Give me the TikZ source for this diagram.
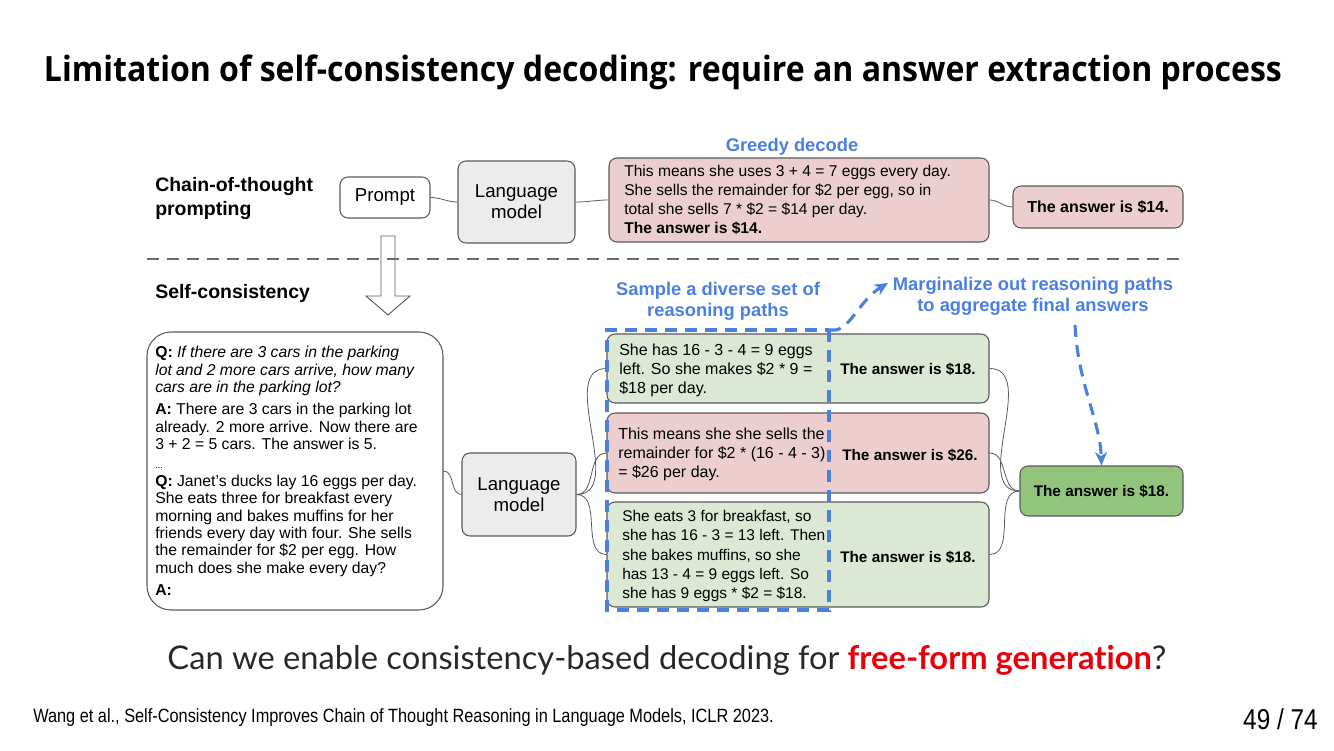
\documentclass[tikz,border=0pt]{standalone}
\usepackage{fontspec}
\setmainfont{Liberation Sans}
\newfontfamily\titlefont[FakeStretch=0.92]{Open Sans}
\newfontfamily\qfont[Ligatures=NoCommon]{Lato}
\newfontfamily\footfont[FakeStretch=0.85]{Liberation Sans}
\usetikzlibrary{arrows.meta}
\definecolor{bluelab}{RGB}{74,128,224}
\definecolor{pinkf}{RGB}{236,206,206}
\definecolor{greenf}{RGB}{219,232,212}
\definecolor{greenD}{RGB}{147,196,125}
\definecolor{grayf}{RGB}{236,236,236}
\definecolor{edgec}{RGB}{90,90,90}
\definecolor{redq}{RGB}{232,0,11}
\definecolor{qtextc}{RGB}{40,40,40}
\tikzset{
  box/.style={draw=edgec, line width=0.8pt, rounded corners=6pt, inner sep=0pt, align=center},
  lmbox/.style={box, fill=grayf, font=\fontsize{14pt}{15.75pt}\selectfont},
  ansbox/.style={box, font=\bfseries\fontsize{11.5pt}{13pt}\selectfont},
  bodytxt/.style={inner sep=0pt, align=left, font=\fontsize{11.7pt}{14.25pt}\selectfont},
  anstxt/.style={inner sep=0pt, font=\bfseries\fontsize{11.5pt}{13pt}\selectfont},
  bluetxt/.style={inner sep=0pt, align=center, text=bluelab, font=\bfseries\fontsize{13.75pt}{15.75pt}\selectfont},
  headtxt/.style={inner sep=0pt, align=left, font=\bfseries\fontsize{14.6pt}{18pt}\selectfont},
  conn/.style={draw=edgec, line width=0.6pt},
  bluedash/.style={draw=bluelab, line width=2.3pt, dash pattern=on 9pt off 6pt},
}
\begin{document}
\begin{tikzpicture}[x=0.75pt,y=-0.75pt]
\useasboundingbox (0,0) rectangle (1334,750);
% title
\node[inner sep=0pt] (title) at (663,72) {\resizebox{928.5pt}{!}{\titlefont\bfseries\fontsize{26pt}{30pt}\selectfont Limitation of self-consistency decoding: require an answer extraction process}};
% headings
\node[headtxt, anchor=west] (cot) at (155,199) {Chain-of-thought\\prompting};
\node[headtxt, anchor=west] (sc) at (155,293) {Self-consistency};
% top row
\node[box, fill=white, minimum width=67.5pt, minimum height=30.75pt, font=\fontsize{14pt}{15pt}\selectfont] (prompt) at (385,197.5) {Prompt};
\node[lmbox, minimum width=87.75pt, minimum height=61.5pt] (lm1) at (516.5,202) {Language\\model};
\node[box, fill=pinkf, minimum width=285pt, minimum height=63pt] (greedy) at (799,200) {};
\node[bodytxt, anchor=west] (greedytxt) at (624,200) {This means she uses 3 + 4 = 7 eggs every day.\\She sells the remainder for \$2 per egg, so in\\total she sells 7 * \$2 = \$14 per day.\\\textbf{The answer is \$14.}};
\node[ansbox, fill=pinkf, minimum width=127.5pt, minimum height=31.5pt, font=\bfseries\fontsize{12pt}{13pt}\selectfont] (ans14) at (1098,207) {The answer is \$14.};
\node[bluetxt] (greedylab) at (792,147) {Greedy decode};
\draw[conn] (prompt.east) to[out=0,in=180] (lm1.west);
\draw[conn] (lm1.east) to[out=0,in=180] (greedy.west);
\draw[conn] (greedy.east) to[out=0,in=180] (ans14.west);
% hollow arrow
\draw[draw=edgec, line width=0.7pt, fill=white] (381,236) -- (395,236) -- (395,296) -- (410,296) -- (388,315) -- (366,296) -- (381,296) -- cycle;
% dashed separator
\coordinate (sepL) at (147,259);
\coordinate (sepR) at (1183,259);
\draw[draw=edgec!90, line width=1.5pt, dash pattern=on 9pt off 6pt] (sepL) -- (sepR);
% question box
\node[box, fill=white, rounded corners=18pt, minimum width=222pt, minimum height=208.5pt] (qbox) at (295,471) {};
\node[inner sep=0pt, align=left, anchor=west, font=\fontsize{11.8pt}{13.1pt}\selectfont] (qtxt) at (155,471) {\textbf{Q:} \textit{If there are 3 cars in the parking}\\\textit{lot and 2 more cars arrive, how many}\\\textit{cars are in the parking lot?}\\[3.5pt]\textbf{A:} There are 3 cars in the parking lot\\already. 2 more arrive. Now there are\\3 + 2 = 5 cars. The answer is 5.\\[1pt]{\fontsize{7pt}{8pt}\selectfont ...}\\\textbf{Q:} Janet’s ducks lay 16 eggs per day.\\She eats three for breakfast every\\morning and bakes muffins for her\\friends every day with four. She sells\\the remainder for \$2 per egg. How\\much does she make every day?\\[3.5pt]\textbf{A:}};
\node[lmbox, minimum width=85.5pt, minimum height=62.25pt] (lm2) at (519,494.5) {Language\\model};
% path boxes
\node[box, fill=greenf, minimum width=286.5pt, minimum height=51.75pt] (p1) at (798,368.5) {};
\node[box, fill=pinkf, minimum width=286.5pt, minimum height=60pt] (p2) at (798,453) {};
\node[box, fill=greenf, minimum width=286.5pt, minimum height=78.75pt] (p3) at (798,554.5) {};
\node[bodytxt, anchor=west, font=\fontsize{12pt}{14.25pt}\selectfont] (p1txt) at (619,370) {She has 16 - 3 - 4 = 9 eggs\\left. So she makes \$2 * 9 =\\\$18 per day.};
\node[bodytxt, anchor=west, font=\fontsize{12pt}{14.25pt}\selectfont] (p2txt) at (618,454) {This means she she sells the\\remainder for \$2 * (16 - 4 - 3)\\= \$26 per day.};
\node[bodytxt, anchor=west, font=\fontsize{11.6pt}{14.4pt}\selectfont] (p3txt) at (622,556) {She eats 3 for breakfast, so\\she has 16 - 3 = 13 left. Then\\she bakes muffins, so she\\has 13 - 4 = 9 eggs left. So\\she has 9 eggs * \$2 = \$18.};
\node[anstxt] (a1) at (908,369) {The answer is \$18.};
\node[anstxt] (a2) at (910,455) {The answer is \$26.};
\node[anstxt] (a3) at (908,557) {The answer is \$18.};
\node[ansbox, fill=greenD, minimum width=122.25pt, minimum height=37.5pt] (final) at (1101.5,491) {The answer is \$18.};
% connectors
\draw[conn] (qbox.east) to[out=0,in=180] (lm2.west);
\draw[conn] (lm2.east) to[out=0,in=180] (p1.west);
\draw[conn] (lm2.east) to[out=0,in=180] (p2.west);
\draw[conn] (lm2.east) to[out=0,in=180] (p3.west);
\draw[conn] (p1.east) to[out=0,in=180] (final.west);
\draw[conn] (p2.east) to[out=0,in=180] (final.west);
\draw[conn] (p3.east) to[out=0,in=180] (final.west);
% blue labels
\node[bluetxt] (samplelab) at (718,301) {Sample a diverse set of\\reasoning paths};
\node[bluetxt] (marglab) at (1033,296) {Marginalize out reasoning paths\\to aggregate final answers};
% blue dashed selection
\coordinate (dTL) at (607,330);
\coordinate (dTR) at (829,330);
\coordinate (dBL) at (607,610);
\coordinate (dBR) at (829,610);
\coordinate (dTip) at (888,283);
\draw[bluedash] (dTR) -- (dBR) -- (dBL) -- (dTL) -- (dTR);
\draw[bluedash, -{Stealth[length=10pt,width=9pt,inset=3pt]}] (dTR) -- (836,330) .. controls (852,326) and (860,300) .. (dTip);
\coordinate (mStart) at (1075,325);
\draw[bluedash, -{Stealth[length=10pt,width=9pt,inset=3pt]}] (mStart) .. controls (1078,385) and (1100,420) .. (final.north);
% bottom question
\node[inner sep=0pt] (question) at (667,660) {\qfont\fontsize{24.5pt}{28pt}\selectfont\color{qtextc} Can we enable consistency-based decoding for {\bfseries\color{redq}free-form generation}?};
% footer
\node[inner sep=0pt, anchor=west] (foot) at (33,718) {\footfont\fontsize{14.4pt}{16pt}\selectfont Wang et al., Self-Consistency Improves Chain of Thought Reasoning in Language Models, ICLR 2023.};
\node[inner sep=0pt, anchor=east] (page) at (1318,719) {\footfont\fontsize{21.5pt}{24pt}\selectfont 49 / 74};
\end{tikzpicture}
\end{document}
